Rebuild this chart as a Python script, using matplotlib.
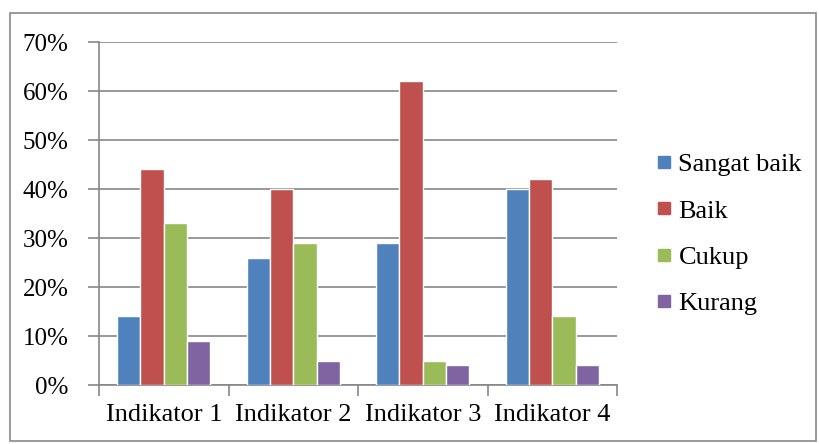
import matplotlib
matplotlib.use("Agg")
import matplotlib.pyplot as plt
import numpy as np
from matplotlib.lines import Line2D
from matplotlib.patches import Rectangle

categories = ["Indikator 1", "Indikator 2", "Indikator 3", "Indikator 4"]
series_names = ["Sangat baik", "Baik", "Cukup", "Kurang"]
sangat_baik = [14, 26, 29, 40]
baik = [44, 40, 62, 42]
cukup = [33, 29, 5, 14]
kurang = [9, 5, 4, 4]
colors = ["#4F81BD", "#C0504D", "#9BBB59", "#8064A2"]
yticks = [0, 10, 20, 30, 40, 50, 60, 70]

plt.rcParams['font.family'] = ['Liberation Serif', 'DejaVu Serif']
FS_Y = 18
FS_X = 19
FS_L = 19

fig = plt.figure(figsize=(8.19, 4.44), dpi=100)
fig.patches.append(Rectangle((10/819, 1-441/444), 806/819, 428/444, transform=fig.transFigure,
                             fill=False, edgecolor="#898989", linewidth=1.2))
ax = fig.add_axes([99/819, 1-385/444, (617-99)/819, (385-42)/444])

x = np.arange(len(categories))
w = 0.18
data = [sangat_baik, baik, cukup, kurang]
for i, (vals, c) in enumerate(zip(data, colors)):
    ax.bar(x + (i - 1.5) * w, vals, width=w, color=c, edgecolor="white", linewidth=1.0, zorder=3)

ax.set_xlim(-0.5, len(categories) - 0.5)
ax.set_ylim(0, 70)
ax.set_yticks(yticks)
ax.set_yticklabels([f"{v}%" for v in yticks], fontsize=FS_Y)
ax.yaxis.grid(True, color="#868686", linewidth=1.2, zorder=0)
ax.set_axisbelow(True)
ax.set_xticks(x)
ax.set_xticklabels(categories, fontsize=FS_X)
ax.set_xticks(np.arange(-0.5, len(categories)), minor=True)
ax.tick_params(axis='x', which='major', length=0, pad=14)
ax.tick_params(axis='x', which='minor', length=8, width=1.2, color="#868686")
ax.tick_params(axis='y', length=8, width=1.2, color="#868686", pad=14)
for s in ["top", "right"]:
    ax.spines[s].set_visible(False)
for s in ["left", "bottom"]:
    ax.spines[s].set_color("#868686")
    ax.spines[s].set_linewidth(1.2)

handles = [Line2D([], [], marker='s', linestyle='none', markersize=8, color=c) for c in colors]
fig.legend(handles, series_names, loc='center left', bbox_to_anchor=(656/819, 1-234/444),
           frameon=False, fontsize=FS_L, handlelength=0.6, handletextpad=0.25, labelspacing=0.86,
           borderpad=0, borderaxespad=0)

fig.savefig("out.png", dpi=100)
